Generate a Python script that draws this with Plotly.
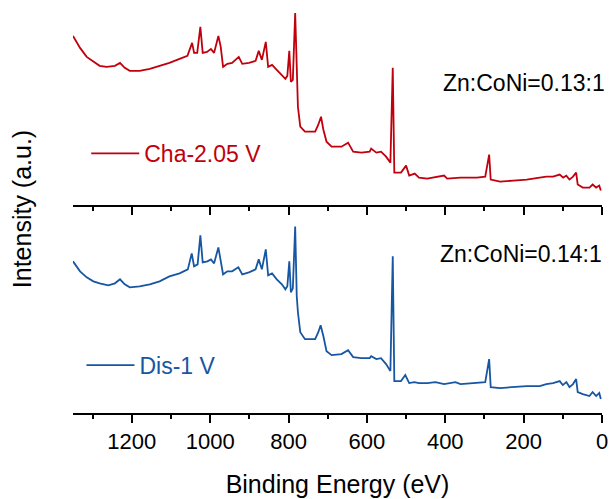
import plotly.graph_objects as go

# ---- data ----
energy_cha = [1350, 1332, 1315, 1298, 1282, 1264, 1243, 1230, 1218, 1205, 1180, 1154, 1129, 1104,
              1078, 1058, 1046, 1041, 1033, 1025, 1019, 1008, 998, 990, 979, 973, 967, 956, 944,
              927, 918, 901, 884, 876, 868, 858, 852, 842, 830, 817, 808, 803, 798, 794, 789, 783,
              779, 776, 770, 758, 732, 724, 717, 711, 703, 690, 665, 648, 635, 614, 593, 589, 576,
              564, 551, 540, 534, 530, 513, 500, 492, 478, 467, 446, 403, 395, 361, 319, 298, 288,
              284, 260, 226, 192, 159, 142, 125, 108, 99, 91, 83, 74, 66, 62, 49, 32, 24, 15, 7, 3]
intensity_cha = [169, 157, 148, 143, 139, 138, 139, 142, 137, 134, 134, 136, 139, 142,
                 146, 149, 162, 152, 152, 178, 152, 153, 156, 152, 169, 158, 138, 141, 142,
                 148, 141, 142, 144, 154, 145, 163, 138, 140, 135, 130, 126, 129, 154, 123, 125, 192,
                 128, 98, 78, 73, 73, 80, 88, 75, 63, 58, 58, 62, 53, 52, 53, 56, 52,
                 53, 48, 42, 137, 32, 32, 39, 29, 31, 27, 26, 29, 26, 27, 27, 28, 50,
                 25, 23, 24, 25, 27, 28, 28, 30, 27, 29, 25, 28, 32, 20, 17, 17, 20, 17, 19, 14]

energy_dis = [1350, 1332, 1315, 1298, 1282, 1260, 1243, 1230, 1218, 1205, 1180, 1154, 1129, 1104,
              1078, 1057, 1047, 1041, 1032, 1025, 1019, 1007, 998, 990, 979, 973, 967, 956, 944,
              928, 918, 901, 884, 876, 868, 858, 852, 842, 830, 817, 808, 803, 798, 794, 789, 783,
              779, 776, 770, 758, 732, 724, 718, 711, 703, 690, 665, 648, 635, 614, 593, 589, 576,
              564, 551, 540, 534, 530, 513, 502, 492, 479, 467, 446, 425, 403, 374, 361, 319, 298,
              288, 284, 260, 226, 192, 159, 142, 125, 108, 100, 91, 83, 74, 66, 62, 49, 32, 24, 15, 7, 3]
intensity_dis = [152, 142, 136, 132, 130, 128, 130, 134, 129, 126, 127, 129, 132, 137,
                 140, 144, 160, 147, 149, 178, 151, 152, 154, 150, 166, 154, 139, 142, 142,
                 146, 139, 141, 144, 154, 144, 164, 138, 140, 134, 129, 124, 127, 152, 121, 125, 187,
                 117, 101, 81, 74, 74, 81, 88, 77, 62, 58, 59, 63, 56, 55, 55, 57, 54,
                 55, 49, 42, 157, 32, 32, 38, 30, 31, 30, 30, 31, 29, 31, 29, 30, 31,
                 54, 26, 25, 26, 27, 27, 29, 30, 32, 28, 31, 26, 29, 34, 21, 19, 17, 21, 17, 20, 14]

label_cha = "Cha-2.05 V"
label_dis = "Dis-1 V"
ratio_cha = "Zn:CoNi=0.13:1"
ratio_dis = "Zn:CoNi=0.14:1"
x_ticks = [1200, 1000, 800, 600, 400, 200, 0]

RED = "#C0000C"
BLUE = "#1656A3"
FONT = "Liberation Sans, Arial, sans-serif"

fig = go.Figure()
fig.add_trace(go.Scatter(x=energy_cha, y=intensity_cha, mode="lines", name=label_cha,
                         line=dict(color=RED, width=1.8), xaxis="x2", yaxis="y2",
                         legend="legend"))
fig.add_trace(go.Scatter(x=energy_dis, y=intensity_dis, mode="lines", name=label_dis,
                         line=dict(color=BLUE, width=1.8), xaxis="x", yaxis="y",
                         legend="legend2"))

axis_common = dict(range=[1350, 0], showline=True, linecolor="black", linewidth=2,
                   ticks="outside", ticklen=8, tickwidth=2, tickcolor="black",
                   tickvals=x_ticks, showgrid=False, zeroline=False,
                   minor=dict(ticks="outside", ticklen=4, tickwidth=2, tickcolor="black", dtick=100,
                              showgrid=False))

fig.update_layout(
    width=613, height=499,
    margin=dict(l=73, r=7, t=5, b=85),
    paper_bgcolor="white", plot_bgcolor="white",
    font=dict(family=FONT, color="black"),
    xaxis=dict(axis_common, anchor="y", domain=[0, 1], showticklabels=True,
               tickfont=dict(size=22, family=FONT, color="black"),
               title=dict(text="Binding Energy (eV)", font=dict(size=25, family=FONT),
                          standoff=22)),
    xaxis2=dict(axis_common, anchor="y2", domain=[0, 1], showticklabels=False),
    yaxis=dict(domain=[0, 0.511], range=[0, 209], visible=False),
    yaxis2=dict(domain=[0.511, 1], range=[0, 200], visible=False),
    legend=dict(x=0.025, y=0.636, xanchor="left", yanchor="middle", bgcolor="rgba(0,0,0,0)",
                font=dict(size=23, color=RED, family=FONT), itemwidth=48),
    legend2=dict(x=0.016, y=0.117, xanchor="left", yanchor="middle", bgcolor="rgba(0,0,0,0)",
                 font=dict(size=23, color=BLUE, family=FONT), itemwidth=48),
    showlegend=True,
    annotations=[
        dict(text=ratio_cha, xref="paper", yref="paper", x=1.01, y=0.809, xanchor="right",
             yanchor="middle", showarrow=False, font=dict(size=23, color="black", family=FONT)),
        dict(text=ratio_dis, xref="paper", yref="paper", x=1.004, y=0.389, xanchor="right",
             yanchor="middle", showarrow=False, font=dict(size=23, color="black", family=FONT)),
        dict(text="Intensity (a.u.)", xref="paper", yref="paper", x=-0.096, y=0.5,
             xanchor="center", yanchor="middle", textangle=-90, showarrow=False,
             font=dict(size=25, color="black", family=FONT)),
    ],
)

fig.write_html("out.html")
